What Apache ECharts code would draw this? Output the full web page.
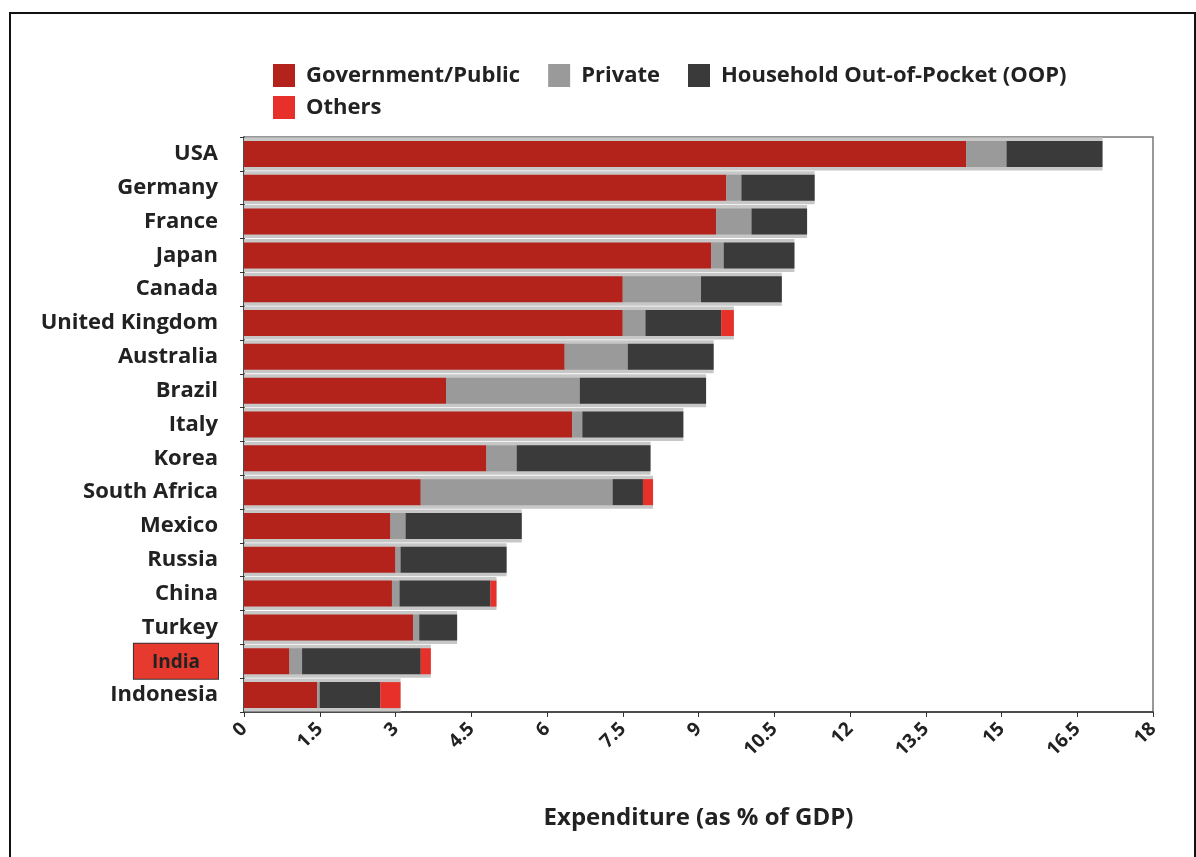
<!DOCTYPE html>
<html>
<head>
<meta charset="utf-8">
<script src="https://cdn.jsdelivr.net/npm/echarts@6/dist/echarts.min.js"></script>
<style>html,body{margin:0;padding:0;background:#fff}#c{width:1196px;height:857px}</style>
</head>
<body>
<div id="c"></div>
<script>
const countries = ["USA","Germany","France","Japan","Canada","United Kingdom","Australia","Brazil","Italy","Korea","South Africa","Mexico","Russia","China","Turkey","India","Indonesia"];
const government = [14.3, 9.55, 9.35, 9.25, 7.5, 7.5, 6.35, 4.0, 6.5, 4.8, 3.5, 2.9, 3.0, 2.93, 3.35, 0.9, 1.45];
const privateExp = [0.8, 0.3, 0.7, 0.25, 1.55, 0.45, 1.25, 2.65, 0.2, 0.6, 3.8, 0.3, 0.1, 0.15, 0.12, 0.25, 0.05];
const oop = [1.9, 1.45, 1.1, 1.4, 1.6, 1.5, 1.7, 2.5, 2.0, 2.65, 0.6, 2.3, 2.1, 1.8, 0.75, 2.35, 1.2];
const others = [0, 0, 0, 0, 0, 0.25, 0, 0, 0, 0, 0.2, 0, 0, 0.12, 0, 0.2, 0.4];
const xTicks = [0, 1.5, 3, 4.5, 6, 7.5, 9, 10.5, 12, 13.5, 15, 16.5, 18];

const totals = countries.map((_, i) => government[i] + privateExp[i] + oop[i] + others[i]);

const chart = echarts.init(document.getElementById('c'), null, {renderer: 'canvas'});
const FONT = '"Open Sans", "DejaVu Sans", sans-serif';

const stackSeries = (name, data, color) => ({
  name, type: 'bar', stack: 'total', data, barWidth: 26, yAxisIndex: 0, z: 3,
  itemStyle: {color},
});

const legendBase = {
  icon: 'rect', itemWidth: 22, itemHeight: 23, itemGap: 28,
  textStyle: {fontFamily: FONT, fontSize: 22, fontWeight: 'bold', color: '#222', padding: [0,0,0,6]}
};

chart.setOption({
  animation: false,
  backgroundColor: '#fff',
  textStyle: {fontFamily: FONT},
  graphic: [{
    type: 'rect', shape: {x: 10, y: 13, width: 1185, height: 860},
    style: {fill: 'none', stroke: '#111', lineWidth: 2}, z: 100
  }],
  legend: [
    Object.assign({left: 268, top: 59, data: ['Government/Public', 'Private', 'Household Out-of-Pocket (OOP)']}, legendBase),
    Object.assign({left: 268, top: 91, data: ['Others']}, legendBase)
  ],
  grid: {left: 244, right: 43, top: 137, bottom: 145, show: true, borderColor: '#777', borderWidth: 1.5, backgroundColor: 'transparent'},
  xAxis: {
    type: 'value', min: 0, max: 18, interval: 1.5,
    name: 'Expenditure (as % of GDP)', nameLocation: 'middle', nameGap: 94,
    nameTextStyle: {fontFamily: FONT, fontSize: 24, fontWeight: 'bold', color: '#222'},
    axisLine: {show: true, lineStyle: {color: '#333', width: 1.5}},
    axisTick: {show: true, length: 5, lineStyle: {color: '#333'}},
    splitLine: {show: false},
    axisLabel: {
      rotate: 45, margin: 14, fontFamily: FONT, fontSize: 19, fontWeight: 'bold', color: '#222',
      formatter: v => xTicks.indexOf(v) >= 0 ? String(v) : ''
    }
  },
  yAxis: [{
    type: 'category', data: countries, inverse: true,
    axisLine: {show: true, lineStyle: {color: '#333', width: 1.5}},
    axisTick: {show: true, length: 4, lineStyle: {color: '#333'}},
    axisLabel: {
      margin: 26, fontFamily: FONT, fontSize: 22, fontWeight: 'bold', color: '#222',
      formatter: v => v === 'India' ? '{hl|' + v + '}' : v,
      rich: {
        hl: {
          backgroundColor: '#e63a2e', borderColor: '#333', borderWidth: 1,
          padding: [9, 18, 7, 18], fontFamily: FONT, fontSize: 19, fontWeight: 'bold', color: '#222'
        }
      }
    }
  }, {
    type: 'category', data: countries, inverse: true, show: false
  }],
  series: [
    {
      name: 'bg', type: 'bar', yAxisIndex: 1, data: totals, barWidth: 33, z: 1,
      itemStyle: {color: '#c7c7c7'}, silent: true, legendHoverLink: false
    },
    stackSeries('Government/Public', government, '#b3231b'),
    stackSeries('Private', privateExp, '#9a9a9a'),
    stackSeries('Household Out-of-Pocket (OOP)', oop, '#3a3a3a'),
    stackSeries('Others', others, '#e8302a')
  ]
});
</script>
</body>
</html>
